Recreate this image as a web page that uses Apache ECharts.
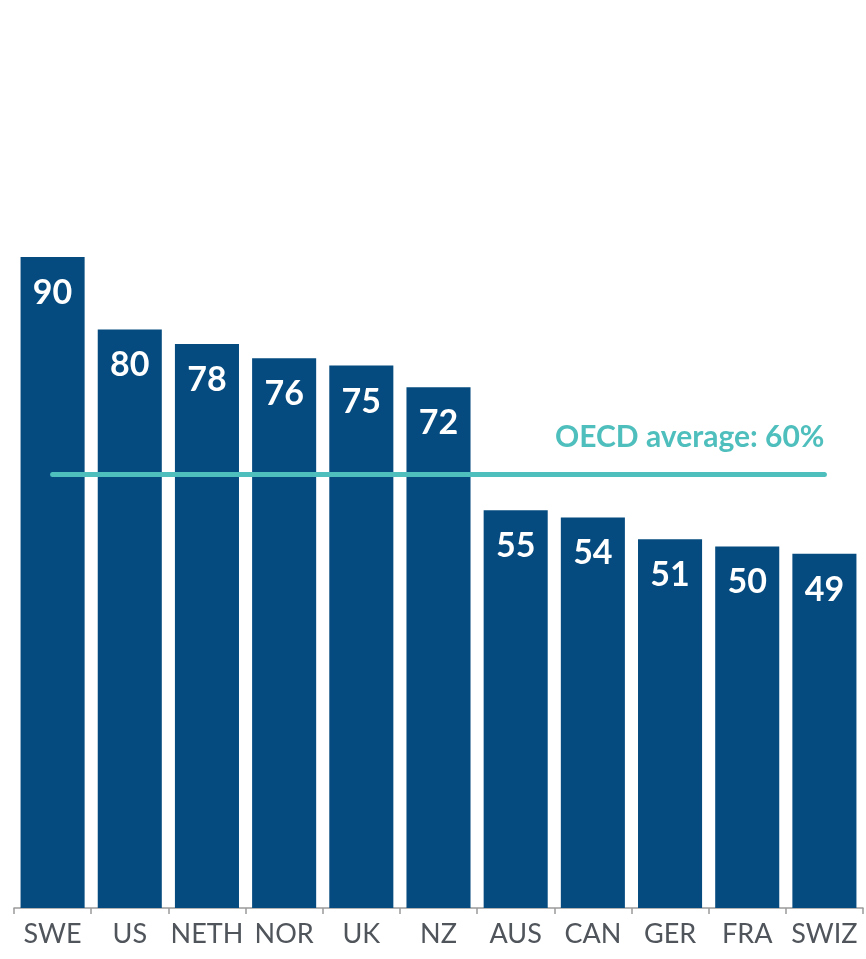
<!DOCTYPE html>
<html><head><meta charset="utf-8">
<script src="https://cdn.jsdelivr.net/npm/echarts@6/dist/echarts.min.js"></script>
<style>html,body{margin:0;padding:0;background:#fff}#c{width:866px;height:959px}</style>
</head><body><div id="c"></div>
<script>
const categories = ['SWE','US','NETH','NOR','UK','NZ','AUS','CAN','GER','FRA','SWIZ'];
const values = [90,80,78,76,75,72,55,54,51,50,49];
const oecdAverage = 60;
const oecdLabel = 'OECD average: 60%';

const chart = echarts.init(document.getElementById('c'));
chart.setOption({
  animation:false,
  grid:{left:14,right:3,top:4,bottom:51,containLabel:false},
  xAxis:{type:'category',data:categories,
    axisLine:{lineStyle:{color:'#9a9a9a',width:1.5}},
    axisTick:{show:true,length:6,lineStyle:{color:'#9a9a9a',width:1.5}},
    axisLabel:{color:'#50555c',fontFamily:'Lato',fontSize:27,margin:13,interval:0}},
  yAxis:{type:'value',min:0,max:125,show:false,splitLine:{show:false}},
  series:[{type:'bar',data:values,barCategoryGap:'17%',
    itemStyle:{color:'#054b7f'},
    label:{show:true,position:'insideTop',distance:19,color:'#fff',fontFamily:'Lato',fontWeight:'bold',fontSize:34},
    markLine:{symbol:'none',silent:true,
      lineStyle:{color:'#4fbfbd',width:5,type:'solid',cap:'round'},
      label:{show:true,position:'insideEndTop',formatter:oecdLabel,color:'#4fbfbd',fontFamily:'Lato',fontWeight:'bold',fontSize:30,distance:[0,22]},
      data:[[{xAxis:categories[0],yAxis:oecdAverage},{xAxis:categories[categories.length-1],yAxis:oecdAverage}]]}
  }]
});
</script></body></html>
